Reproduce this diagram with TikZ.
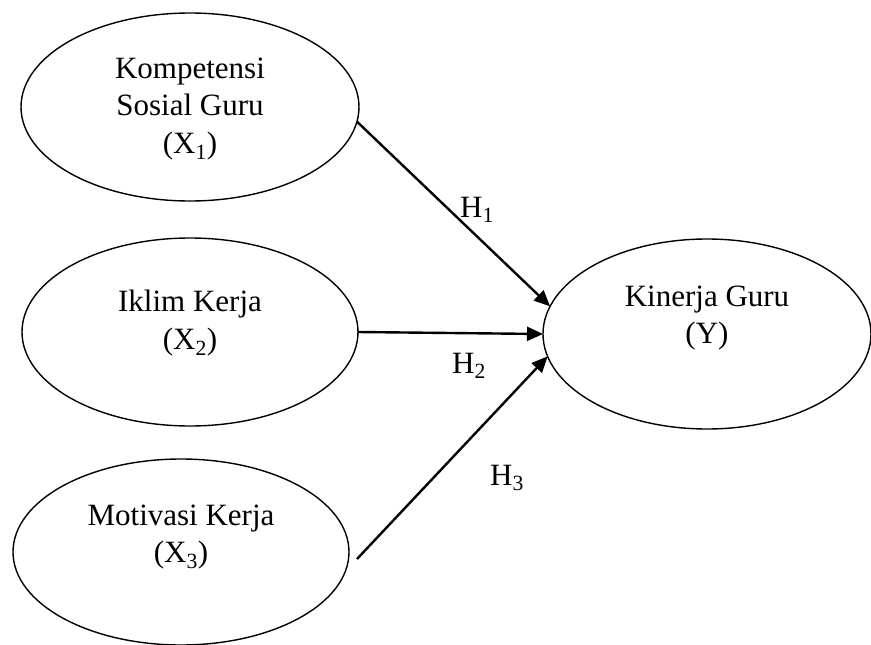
\documentclass[tikz,border=0pt]{standalone}
\usepackage{fontspec}
\setmainfont{Liberation Serif}
\usetikzlibrary{shapes.geometric,arrows.meta}
\tikzset{
  oval/.style={draw, ellipse, line width=1.4pt, inner sep=0pt, outer sep=0pt},
  lbl/.style={align=center, font=\fontsize{31}{37.5}\selectfont, inner sep=0pt},
  hlbl/.style={anchor=base west, font=\fontsize{31}{37}\selectfont, inner sep=0pt},
  link/.style={line width=2.4pt, -{Triangle[length=16pt,width=14pt]}}
}
\begin{document}
\begin{tikzpicture}[x=1pt,y=-1pt]
\useasboundingbox (0,0) rectangle (871,645);
\node[oval, minimum width=338pt, minimum height=188pt] (k1) at (190,107) {};
\node[oval, minimum width=336pt, minimum height=188pt] (k2) at (190,332) {};
\node[oval, minimum width=336pt, minimum height=186pt] (k3) at (181,552) {};
\node[oval, minimum width=328pt, minimum height=190pt] (ky) at (707,334) {};
\node[lbl] (t1) at (190,109) {Kompetensi\\Sosial Guru\\(X\textsubscript{1})};
\node[lbl] (t2) at (190,323) {Iklim Kerja\\(X\textsubscript{2})};
\node[lbl] (t3) at (181,537) {Motivasi Kerja\\(X\textsubscript{3})};
\node[lbl] (ty) at (707,318) {Kinerja Guru\\(Y)};
\draw[link] (k1.-5) -- (ky.170);
\draw[link] (k2.0) -- (ky.180);
\draw[link] ([xshift=8pt,yshift=-7pt]k3.0) -- (ky.188);
\node[hlbl] (h1) at (460,217) {H\textsubscript{1}};
\node[hlbl] (h2) at (452,373) {H\textsubscript{2}};
\node[hlbl] (h3) at (490,485) {H\textsubscript{3}};
\end{tikzpicture}
\end{document}
